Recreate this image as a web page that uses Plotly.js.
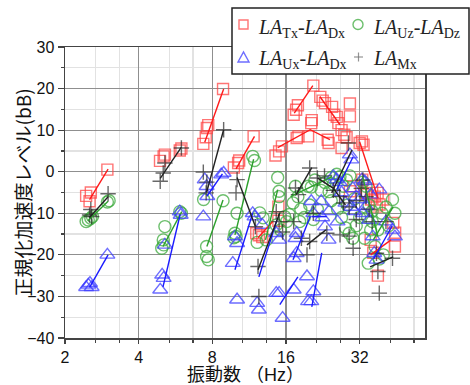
<!DOCTYPE html>
<html>
<head>
<meta charset="utf-8">
<script src="https://cdn.plot.ly/plotly-3.0.1.min.js"></script>
<style>html,body{margin:0;padding:0;background:#fff;}#chart{width:470px;height:385px;}</style>
</head>
<body>
<div id="chart"></div>
<script>
// ---- Data ----
// LA_Tx - LA_Dx (red squares)
var txFreq  = [2.44,2.55,2.52,2.98, 4.89,5.06,5.12,5.89,5.98, 7.35,7.52,7.6,7.7,8.85, 9.8,10.2,10.3,11.8,
  12.1,12.4,12.8,14.9,14.9, 14.5,15.0,15.4, 17.2,17.6,17.9,20.7, 17.7,18.0,19.7,20.3,20.4,23.7,23.9,
  22.1,22.6,23.1,24.7,25.2,25.8,26.2,27.0,27.7,28.3,27.0,29.2,29.2, 32.0,32.7,33.2,
  29.2,30.1,32.8,34.3,34.0,35.6,36.0,36.9,37.9,38.6,37.6,40.0,43.9,44.7,44.6,35.5,36.4,38.0];
var txLevel = [-5.8,-5.0,-7.1,0.5, 2.6,3.7,4.1,5.1,5.6, 6.7,8.3,10.5,11.2,19.9, 1.0,2.1,2.7,8.5,
  -14.8,-15.3,-15.7,-8.4,-11.8, 3.9,4.9,6.1, 13.7,14.9,16.0,20.7, 8.1,8.5,8.5,11.7,12.4,7.7,6.9,
  18.0,17.1,16.5,15.6,13.7,13.2,11.7,10.0,8.9,8.3,5.7,16.4,13.3, 6.9,7.3,6.5,
  -4.7,-3.5,-1.9,-5.5,-5.1,-6.7,-4.3,-6.0,-5.1,-7.9,-8.4,-6.7,-12.3,-14.7,-18.0,-16.4,-19.5,-25.0];
var txLineFreq  = [2.52,3.0,null, 7.45,8.9,null, 10.0,11.9,null, 12.3,14.1,null, 17.3,20.6,null,
  22.0,26.6,null, 14.8,20.1,24.2,null, 32.0,38.0,null, 35.5,43.0];
var txLineLevel = [-6.7,0.6,null, 7.1,19.9,null, 0.7,8.5,null, -15.9,-12.0,null, 14.1,20.7,null,
  18.1,11.3,null, 5.8,10.1,7.7,null, 7.2,-6.3,null, -20.0,-16.4];

// LA_Uz - LA_Dz (green circles)
var uzFreq  = [2.44,2.49,2.55,2.59,2.98,3.03, 5.12,5.04,4.97,5.06,5.89,5.98, 7.37,7.58,7.58,7.7,8.85,
  10.1,9.9,10.0,9.8,11.7,11.9, 12.5,12.9,12.2,13.3, 14.8,15.0,15.0,15.8,16.1,14.6,15.2,
  17.1,16.5,17.5,17.9,18.4,18.2,19.0, 19.7,20.3,21.0,20.0,20.7,21.5,
  22.3,23.1,24.0,24.5,25.0,25.8,26.6,27.5,28.3,29.2,24.5,26.0,27.0,28.0,29.0,30.0,31.0,32.0,28.5,30.5,
  33.0,34.0,35.0,36.0,34.7,37.0,38.0,39.5,41.0,43.6,44.6,42.0,36.0,33.5,40.0,38.5,35.5,34.5];
var uzLevel = [-12.0,-11.6,-11.2,-10.8,-7.3,-7.0, -13.2,-16.4,-18.4,-17.6,-9.6,-10.0, -6.7,-18.0,-20.4,-21.2,-7.0,
  -10.0,-14.8,-15.6,-15.9,3.7,2.7, -9.9,-11.1,-17.0,-16.4, -1.4,-4.7,-6.0,-10.8,-12.0,-12.8,-14.0,
  -7.5,-10.3,-3.5,-6.0,-9.0,-12.0,-11.0, -3.5,-3.7,-2.0,-8.0,-11.5,-9.0,
  -4.5,-2.6,-4.8,-1.4,-3.0,-0.6,-1.2,-3.5,-2.0,-1.0,-7.0,-9.0,-11.0,-13.5,-14.8,-16.0,-13.0,-11.0,-8.0,-6.5,
  -2.5,-3.5,-8.0,-12.0,-22.0,-18.0,-14.0,-10.0,-8.5,-6.7,-10.0,-13.0,-9.5,-16.0,-20.0,-21.0,-14.0,-11.0];
var uzLineFreq  = [2.48,3.0,null, 5.03,6.0,null, 7.6,8.85,null, 9.9,11.8,null, 13.2,14.8,null,
  16.7,24.7,null, 32.9,38.0,null, 36.4,43.9];
var uzLineLevel = [-11.8,-7.1,null, -18.0,-9.6,null, -18.0,-6.8,null, -15.2,3.0,null, -16.4,-4.3,null,
  -6.0,-1.2,null, -1.2,-15.6,null, -16.4,-8.4];

// LA_Ux - LA_Dx (blue triangles)
var uxFreq  = [2.44,2.49,2.53,2.57,2.98, 4.9,4.99,5.06,5.12,5.89,5.94, 7.35,7.45,7.58,7.63,8.7,8.9,
  9.7,9.9,10.1,10.1,11.7,11.9,12.2,12.4,12.8, 15.0,14.6,15.0,15.5,14.6,
  17.2,17.5,17.7,17.2,17.7, 19.5,19.7,20.3,20.7,20.3,20.7,22.3,23.1,23.9,
  25.0,25.8,26.5,27.0,28.0,29.2,29.6,29.5,30.5,31.0,32.7,33.6,32.0,34.0,35.0,36.2,36.7,37.5,38.5,
  43.6,44.6,41.0,24.0,22.5,26.0,30.0,35.5,33.0];
var uxLevel = [-27.8,-27.2,-26.8,-27.8,-20.0, -28.4,-24.8,-25.6,-17.6,-9.6,-10.4, -10.8,-1.9,-3.5,-5.9,-0.7,-0.3,
  -22.0,-15.6,-17.2,-30.8,-10.0,-10.8,-31.6,-33.2,-12.8, -16.4,-29.2,-29.2,-35.2,-14.8,
  -28.4,-16.0,-14.8,-20.8,-19.6, -25.2,-31.2,-31.2,-28.8,-7.1,-10.0,-7.1,-13.2,-16.4,
  -1.1,-1.9,-2.5,-5.0,-7.5,4.1,2.9,-8.5,-9.5,-6.0,-1.9,-2.3,-6.7,-8.3,-11.6,-15.6,-19.6,-21.2,-4.3,
  -14.0,-15.6,-12.0,-9.5,-11.0,-12.0,-4.0,-5.5,-10.0];
var uxLineFreq  = [2.52,3.0,null, 5.03,5.91,null, 7.6,8.8,null, 9.9,11.7,null, 12.4,14.7,null,
  15.1,17.9,null, 17.1,20.1,null, 20.4,22.4,null, 20.5,23.5,null, 25.8,30.1,null, 36.5,43.5];
var uxLineLevel = [-27.8,-20.0,null, -27.7,-10.3,null, -5.9,-0.5,null, -23.6,-10.0,null, -25.3,-11.6,null,
  -32.0,-25.3,null, -21.2,-10.8,null, -32.5,-19.5,null, -10.8,-10.8,null, -4.3,3.6,null, -21.0,-13.0];

// LA_Mx (black crosses)
var mxFreq  = [2.52,2.55,2.57,3.0, 4.9,5.04,5.12,5.98, 7.35,7.55,7.6,8.9, 10.1,10.0,12.0,
  12.3,12.4,14.6,15.0,15.5, 17.5,18.0,20.0,19.5,20.0,20.7, 23.5,26.6,30.1,28.8,
  21.5,23.0,25.0,26.5,27.5,29.0,31.0,32.5,33.0,34.0,35.0,36.0,37.5,38.0,38.5,43.6,41.0,29.0,31.0,17.2,18.5];
var mxLevel = [-10.4,-9.1,-10.8,-5.3, -2.3,-0.3,2.1,5.7, -0.1,-5.1,-2.5,10.1, -1.9,-5.1,-13.2,
  -22.8,-30.0,-9.6,-12.0,-14.5, -3.9,-5.5,0.9,-20.0,-16.8,-10.0, -14.8,-15.2,-18.4,6.9,
  -1.5,-1.0,-4.5,-6.0,-7.5,-8.5,-7.0,-4.0,-2.0,-6.0,-9.0,-12.0,-19.6,-24.0,-29.2,-20.8,-12.0,-15.5,-11.5,-12.0,-16.0];
var mxLineFreq  = [2.52,3.0,null, 4.9,5.98,null, 7.58,8.9,null, 10.1,12.0,null, 12.3,15.1,null,
  17.6,20.4,null, 19.5,23.3,null, 24.6,29.8,null, 21.5,25.0,28.0,null, 35.3,43.9];
var mxLineLevel = [-11.0,-6.0,null, -1.6,5.9,null, -5.0,10.1,null, -1.4,-13.2,null, -23.6,-9.9,null,
  -5.5,1.0,null, -17.6,-14.0,null, -5.1,5.3,null, -1.5,-4.0,-8.0,null, -22.9,-20.5];

// Axis ticks and labels
var xTickVals = [2,4,8,16,32];
var xTickText = ['2','4','8','16','32'];
var xMinorVals = [2.6667,3.3333,5.3333,6.6667,10.6667,13.3333,21.3333,26.6667,42.6667,53.3333];
var legendNames = [
  '<i>LA</i><sub>Tx</sub>-<i>LA</i><sub>Dx</sub>',
  '<i>LA</i><sub>Uz</sub>-<i>LA</i><sub>Dz</sub>',
  '<i>LA</i><sub>Ux</sub>-<i>LA</i><sub>Dx</sub>',
  '<i>LA</i><sub>Mx</sub>'
];
var xTitle = '振動数 （Hz）';
var yTitle = '正規化加速度レベル(bB)';

var cTx = 'rgba(255,70,70,0.75)', cUz = 'rgba(60,170,60,0.75)', cUx = 'rgba(60,60,255,0.75)', cMx = 'rgba(40,40,40,0.7)';

function markerTrace(x, y, name, symbol, color, size) {
  return {x: x, y: y, type: 'scatter', mode: 'markers', name: name, showlegend: false,
    marker: {symbol: symbol, size: size, color: color, line: {color: color, width: 1.4}}};
}
function lineTrace(x, y, color) {
  return {x: x, y: y, type: 'scatter', mode: 'lines', showlegend: false, hoverinfo: 'skip',
    connectgaps: false, line: {color: color, width: 1.4}};
}

var data = [
  markerTrace(txFreq, txLevel, legendNames[0], 'square-open', cTx, 11),
  markerTrace(uzFreq, uzLevel, legendNames[1], 'circle-open', cUz, 12),
  markerTrace(uxFreq, uxLevel, legendNames[2], 'triangle-up-open', cUx, 13),
  markerTrace(mxFreq, mxLevel, legendNames[3], 'cross-thin-open', cMx, 11),
  lineTrace(txLineFreq, txLineLevel, '#ff1a1a'),
  lineTrace(uzLineFreq, uzLineLevel, '#2ca02c'),
  lineTrace(uxLineFreq, uxLineLevel, '#1a1aff'),
  lineTrace(mxLineFreq, mxLineLevel, '#222222')
];

// pixel -> paper helpers for the hand-built legend box
var PL = 65, PW = 360, PB = 338, PH = 291;
function px(x) { return (x - PL) / PW; }
function py(y) { return (PB - y) / PH; }

var legFont = {family: '"Liberation Serif", "DejaVu Serif", serif', size: 20, color: '#222'};
var shapes = [
  {type: 'rect', xref: 'paper', yref: 'paper', x0: px(232), x1: px(469), y0: py(74), y1: py(8),
   line: {color: '#222', width: 1.5}, fillcolor: '#fff', layer: 'above'},
  // legend symbols
  {type: 'rect', xref: 'paper', yref: 'paper', x0: px(239), x1: px(248), y0: py(29), y1: py(20),
   line: {color: cTx, width: 1.4}, layer: 'above'},
  {type: 'circle', xref: 'paper', yref: 'paper', x0: px(353), x1: px(363), y0: py(29.5), y1: py(19.5),
   line: {color: cUz, width: 1.4}, layer: 'above'},
  {type: 'path', xref: 'paper', yref: 'paper',
   path: 'M ' + px(238) + ' ' + py(62) + ' L ' + px(249) + ' ' + py(62) + ' L ' + px(243.5) + ' ' + py(52) + ' Z',
   line: {color: cUx, width: 1.4}, layer: 'above'},
  {type: 'line', xref: 'paper', yref: 'paper', x0: px(354), x1: px(363), y0: py(57), y1: py(57),
   line: {color: 'rgba(120,120,120,0.8)', width: 1.2}, layer: 'above'},
  {type: 'line', xref: 'paper', yref: 'paper', x0: px(358.5), x1: px(358.5), y0: py(52.5), y1: py(61.5),
   line: {color: 'rgba(120,120,120,0.8)', width: 1.2}, layer: 'above'}
];

var cjk = '"Noto Sans CJK JP", sans-serif';
var annotations = [
  {text: yTitle, textangle: -90, xref: 'paper', yref: 'paper', x: px(22), y: 0.5,
   xanchor: 'center', yanchor: 'middle', showarrow: false, font: {family: cjk, size: 19, color: '#111'}},
  {text: xTitle, xref: 'paper', yref: 'paper', x: px(245), y: py(375), borderpad: 0,
   xanchor: 'center', yanchor: 'middle', showarrow: false,
   font: {family: '"Liberation Sans", "Noto Sans CJK JP", sans-serif', size: 18, color: '#111'}},
  {text: legendNames[0], xref: 'paper', yref: 'paper', x: px(256), y: py(28), xanchor: 'left', yanchor: 'middle', showarrow: false, font: legFont},
  {text: legendNames[1], xref: 'paper', yref: 'paper', x: px(371), y: py(28), xanchor: 'left', yanchor: 'middle', showarrow: false, font: legFont},
  {text: legendNames[2], xref: 'paper', yref: 'paper', x: px(256), y: py(60), xanchor: 'left', yanchor: 'middle', showarrow: false, font: legFont},
  {text: legendNames[3], xref: 'paper', yref: 'paper', x: px(371), y: py(60), xanchor: 'left', yanchor: 'middle', showarrow: false, font: legFont}
];

var tickFont = {family: '"Liberation Sans", Arial, sans-serif', size: 16, color: '#111'};
var layout = {
  width: 470, height: 385,
  margin: {l: 65, r: 45, t: 47, b: 47},
  paper_bgcolor: '#fff', plot_bgcolor: '#fff',
  showlegend: false,
  xaxis: {
    type: 'log', range: [Math.log10(2), Math.log10(59.2)],
    tickmode: 'array', tickvals: xTickVals, ticktext: xTickText,
    showgrid: true, gridcolor: '#8f8f8f', gridwidth: 1.2,
    showline: true, linecolor: '#444', linewidth: 1.5, mirror: true,
    ticks: 'outside', ticklen: 4, tickcolor: '#444', tickwidth: 1.2,
    zeroline: false, tickfont: tickFont,
    minor: {tickmode: 'array', tickvals: xMinorVals, showgrid: true, gridcolor: '#e2e2e2', gridwidth: 1.2,
      ticks: 'outside', ticklen: 3, tickcolor: '#444'}
  },
  yaxis: {
    range: [-40, 30], tickmode: 'linear', tick0: 0, dtick: 10,
    showgrid: true, gridcolor: '#8f8f8f', gridwidth: 1.2,
    showline: true, linecolor: '#444', linewidth: 1.5, mirror: true,
    ticks: 'outside', ticklen: 6, tickcolor: '#444', tickwidth: 1.2,
    zeroline: false, tickfont: tickFont,
    minor: {dtick: 5, showgrid: true, gridcolor: '#e2e2e2', gridwidth: 1.2,
      ticks: 'outside', ticklen: 3, tickcolor: '#444'}
  },
  shapes: shapes,
  annotations: annotations
};

Plotly.newPlot('chart', data, layout, {displayModeBar: false, staticPlot: true});
</script>
</body>
</html>
